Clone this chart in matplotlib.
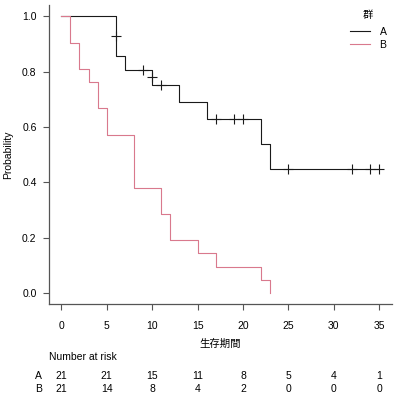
import matplotlib.pyplot as plt
from matplotlib.transforms import blended_transform_factory

plt.rcParams['font.family'] = ['Liberation Sans', 'Noto Sans CJK JP']

# KM step values
a_times = [0, 6, 7, 10, 13, 16, 22, 23, 35]
a_surv = [1.0, 0.857, 0.807, 0.753, 0.690, 0.627, 0.538, 0.448, 0.448]
a_cens_t = [6, 9, 10, 11, 17, 19, 20, 25, 32, 34, 35]
a_cens_s = [0.929, 0.807, 0.780, 0.753, 0.627, 0.627, 0.627, 0.448, 0.448, 0.448, 0.448]

b_times = [0, 1, 2, 3, 4, 5, 8, 11, 12, 15, 17, 22, 23]
b_surv = [1.0, 0.905, 0.810, 0.762, 0.667, 0.571, 0.381, 0.286, 0.190, 0.143, 0.095, 0.048, 0.0]

risk_times = [0, 5, 10, 15, 20, 25, 30, 35]
risk_a = [21, 21, 15, 11, 8, 5, 4, 1]
risk_b = [21, 14, 8, 4, 2, 0, 0, 0]

col_a = '#1a1a1a'
col_b = '#D9798D'

fig = plt.figure(figsize=(4.02, 3.99), dpi=100)
ax = fig.add_axes([0.122, 0.238, 0.853, 0.749])

ax.plot(a_times, a_surv, drawstyle='steps-post', color=col_a, lw=0.8, label='A')
ax.plot(b_times, b_surv, drawstyle='steps-post', color=col_b, lw=0.8, label='B')
ax.plot(a_cens_t, a_cens_s, ls='none', marker='+', ms=7, mew=0.8, color=col_a)

ax.set_xlim(-1.35, 36.4)
ax.set_ylim(-0.04, 1.04)
ax.set_xticks(risk_times)
ax.set_yticks([0.0, 0.2, 0.4, 0.6, 0.8, 1.0])
ax.set_yticklabels(['0.0', '0.2', '0.4', '0.6', '0.8', '1.0'])
for s in ['top', 'right']:
    ax.spines[s].set_visible(False)
for s in ['left', 'bottom']:
    ax.spines[s].set_color('#555555')
    ax.spines[s].set_linewidth(0.9)
ax.tick_params(axis='both', labelsize=7.5, length=4, width=0.8, color='#555555')
ax.tick_params(axis='x', pad=8)
ax.tick_params(axis='y', pad=5)

ax.set_ylabel('Probability', fontsize=7.5)
ax.yaxis.set_label_coords(-0.105, 0.5)
ax.set_xlabel('生存期間', fontsize=7.5)
ax.xaxis.set_label_coords(0.5, -0.115)

leg = ax.legend(title='群', frameon=False, fontsize=7.5, title_fontsize=7.5,
                loc='upper right', bbox_to_anchor=(1.005, 1.008), handlelength=1.9,
                handletextpad=0.9, labelspacing=0.25, borderaxespad=0.3)
leg._legend_box.sep = 5

# number at risk table
tr = blended_transform_factory(ax.transData, fig.transFigure)
fig.text(0.122, 0.105, 'Number at risk', fontsize=7.5, va='center')
fig.text(0.095, 0.0576, 'A', fontsize=7.5, va='center', ha='center')
fig.text(0.095, 0.025, 'B', fontsize=7.5, va='center', ha='center')
for t, na, nb in zip(risk_times, risk_a, risk_b):
    ax.text(t, 0.0576, str(na), transform=tr, fontsize=7.5, ha='center', va='center')
    ax.text(t, 0.025, str(nb), transform=tr, fontsize=7.5, ha='center', va='center')

plt.savefig('out.png', dpi=100)
